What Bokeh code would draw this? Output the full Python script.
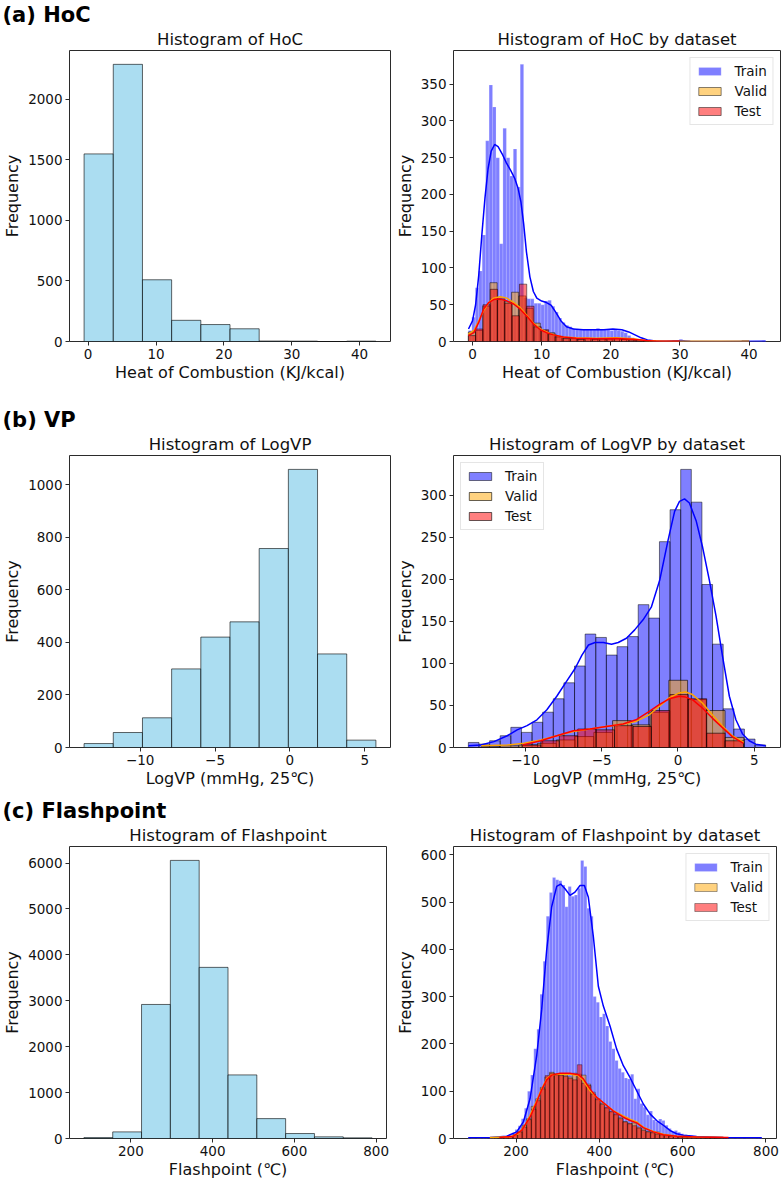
import numpy as np
from bokeh.plotting import figure
from bokeh.layouts import column, row
from bokeh.models import (ColumnDataSource, Range1d, Legend, LegendItem, FixedTicker, Title)
from bokeh.embed import file_html
from bokeh.resources import INLINE

FONT = "DejaVu Sans"

# ---------------- (a) Heat of combustion ----------------
hoc_all_range = (-0.6, 42.4)
hoc_all_counts = [1550, 2290, 510, 175, 140, 105, 4, 3, 0, 3]

hoc_train_range = (-0.6, 42.4)
hoc_train_counts = ([15, 33, 73, 96, 145, 273, 349, 319, 250, 133, 290, 250, 225, 262, 210, 377,
                     60, 58, 58, 52, 52,
                     50, 55, 56, 48, 40, 32, 26, 22, 20, 18,
                     17, 16, 17, 16, 17, 16, 18, 17, 16, 16, 15, 16, 15, 14,
                     12, 8, 5, 3, 1]
                    + [0] * 11 + [3] + [0] * 23 + [1])
hoc_valid_range = (-0.6, 40.0)
hoc_valid_counts = [13, 15, 48, 80, 57, 54, 67, 62, 45, 25, 15, 12, 6, 5, 4, 3, 4, 3, 4, 3,
                    4, 3, 3, 2, 1, 1, 0, 0, 0, 1, 0, 0, 0, 0, 0, 0, 0, 0, 1]
hoc_test_range = (-0.6, 30.0)
hoc_test_counts = [8, 17, 50, 71, 58, 52, 35, 78, 48, 20, 16, 10, 7, 4, 4, 3, 4, 3, 3, 4,
                   4, 3, 2, 1, 1, 0, 0, 0, 1]

hoc_train_kde_x = [-0.58, 0.0, 0.45, 0.9, 1.35, 1.8, 2.25, 2.7, 3.2, 3.7, 4.3, 4.9, 5.5, 6.1,
                   6.6, 7.0, 7.4, 7.8, 8.3, 8.8, 9.3, 10.0, 10.7, 11.4, 12.1, 12.8, 13.6, 14.6,
                   16.0, 17.5, 19.0, 20.3, 21.6, 22.6, 23.5, 24.4, 25.3, 26.5, 28.0, 30.0,
                   31.5, 36.0, 42.4]
hoc_train_kde_y = [17, 28, 50, 90, 145, 195, 235, 259, 268, 265, 255, 243, 233, 222,
                   208, 190, 160, 122, 88, 68, 59, 55, 53, 49, 39, 28, 20, 17,
                   16, 16, 16, 17, 16, 13, 9, 5, 2, 0.6, 0.4, 1,
                   0.3, 0.1, 0.3]
hoc_valid_kde_x = [-0.6, 0.2, 0.9, 1.6, 2.35, 3.07, 4.0, 4.99, 5.95, 6.9, 7.9, 8.8, 9.8, 10.7,
                   11.7, 13.1, 15.0, 17.9, 20.8, 23.2, 25.1, 27.5, 31.4, 36.2, 40.0]
hoc_valid_kde_y = [10, 15, 28, 42, 53, 59, 61, 59, 53, 46, 35, 25, 17, 13,
                   9, 6, 5, 4.5, 5, 3.6, 1.3, 0.5, 0.4, 0.5, 0.5]
hoc_test_kde_x = [-0.6, 0.2, 0.9, 1.6, 2.35, 3.07, 4.0, 5.0, 5.95, 6.9, 7.9, 8.8, 9.8, 10.7,
                  11.7, 13.1, 15.0, 17.9, 20.8, 23.2, 25.1, 26.6, 30.0]
hoc_test_kde_y = [8, 12, 26, 44, 53, 57, 58, 55, 51, 44, 34, 24, 16, 12,
                  9, 6, 4.5, 3.6, 4, 3, 1.3, 0.5, 0.4]

# ---------------- (b) Vapour pressure ----------------
vp_all_range = (-13.75, 5.75)
vp_all_counts = [15, 57, 113, 299, 420, 478, 757, 1058, 356, 28]

vp_train_range = (-13.75, 5.75)
vp_train_counts = [6, 4, 8, 14, 24, 18, 30, 42, 58, 77, 97, 135, 131, 110, 120, 132, 170, 154,
                   245, 283, 331, 292, 194, 123, 46, 22, 10, 3]
vp_valid_range = (-12.9, 4.32)
vp_valid_counts = [1, 2, 3, 5, 9, 13, 18, 32, 27, 42, 80, 57, 44, 12]
vp_test_range = (-10.2, 4.3)
vp_test_counts = [3, 8, 14, 22, 21, 26, 25, 44, 63, 58, 17, 8]

vp_train_kde_x = [-13.75, -12.94, -12.07, -11.2, -10.55, -9.9, -9.25, -8.6, -7.95, -7.3, -6.75,
                  -6.3, -5.87, -5.44, -4.9, -4.36, -3.92, -3.38, -2.84, -2.29, -1.75, -1.2,
                  -0.66, -0.22, 0.1, 0.43, 0.75, 1.19, 1.62, 2.06, 2.5, 2.93, 3.37, 3.8, 4.24,
                  4.67, 5.1, 5.75]
vp_train_kde_y = [2, 3, 7, 14, 21, 26, 33, 45, 61, 79, 94,
                  110, 122, 125, 125, 123, 125, 130, 140, 152, 167, 199,
                  246, 281, 293, 296, 291, 270, 238, 199, 156, 108, 61, 33, 16,
                  8, 4, 2]
vp_valid_kde_x = [-12.9, -11.2, -10.1, -9.0, -7.95, -6.86, -5.78, -4.7, -3.6, -2.75, -1.88,
                  -1.23, -0.58, 0.08, 0.5, 0.95, 1.6, 2.25, 2.9, 3.56, 4.32]
vp_valid_kde_y = [2, 3, 5, 9, 14, 19, 22, 25, 28, 31, 39,
                  49, 59, 65, 66, 63, 53, 39, 26, 14, 6]
vp_test_kde_x = [-10.2, -9.0, -7.95, -6.86, -5.78, -4.7, -3.6, -2.75, -1.88, -1.23, -0.58,
                 0.08, 0.5, 0.95, 1.6, 2.25, 2.9, 3.56, 4.3]
vp_test_kde_y = [3, 8, 14, 20, 22, 25, 28, 33, 43, 51, 58,
                 61, 60, 57, 47, 35, 24, 13, 5]

# ---------------- (c) Flashpoint ----------------
fp_all_range = (85.0, 790.0)
fp_all_counts = [20, 144, 2920, 6058, 3728, 1385, 433, 108, 36, 14]

fp_train_range = (85.0, 790.0)
fp_train_counts = [1, 0, 1, 0, 1, 1, 2, 2, 1, 3,
                   2, 4, 5, 7, 12, 19, 27, 42, 64, 100,
                   134, 190, 231, 305, 375, 470, 520, 552, 547, 545,
                   536, 490, 533, 512, 515, 529, 588, 575, 487, 470,
                   300, 288, 257, 264, 238, 205, 190, 165, 148, 140,
                   128, 126, 136, 84, 105, 74, 66, 50, 58, 39,
                   35, 41, 38, 28, 21, 14, 17, 13, 10, 8,
                   7, 6, 5, 5, 4, 3, 4, 3, 2, 3,
                   2, 1, 2, 1, 0, 1, 0, 0, 1, 0,
                   0, 0, 1, 1]
fp_valid_range = (137.0, 698.0)
fp_valid_counts = [2, 1, 2, 3, 4, 7, 14, 28, 42, 68,
                   84, 108, 130, 140, 137, 135, 134, 130, 138, 136,
                   134, 115, 98, 82, 74, 64, 56, 50, 44, 36,
                   32, 33, 24, 20, 15, 13, 14, 8, 7, 5,
                   5, 3, 3, 2, 2, 1, 2, 1, 1, 0, 1]
fp_test_range = (160.0, 710.0)
fp_test_counts = [2, 3, 4, 8, 14, 24, 40, 62, 80, 105,
                  133, 138, 134, 133, 131, 127, 124, 156, 117, 112,
                  94, 84, 72, 66, 57, 52, 42, 35, 31, 27,
                  22, 17, 14, 12, 9, 8, 6, 5, 4, 3,
                  3, 2, 2, 2, 1, 1, 1, 1, 0, 1]

fp_train_kde_x = [85, 137.5, 177.5, 201.5, 217.5, 233.5, 249.5, 261.5, 273.5, 285.5, 297.5,
                  307, 317.5, 329.5, 341.5, 353.5, 364, 373.5, 385.5, 397.5, 409.5, 425.5,
                  441.5, 457.5, 473.5, 489.5, 505.5, 521.5, 537.5, 553.5, 569.5, 585.5,
                  601.5, 633.5, 665.5, 697.5, 737.5, 790]
fp_train_kde_y = [1.4, 2, 5, 14, 35, 84, 175, 273, 399, 490, 533,
                  538, 528, 514, 521, 535, 535, 510, 427, 322, 280, 238,
                  189, 154, 129, 101, 73, 52, 38, 28, 17, 10,
                  7, 4, 3, 2, 1.4, 1.4]
fp_valid_kde_x = [137, 185.5, 205.5, 221.5, 233.5, 249.5, 261.5, 273.5, 285.5, 305.5, 329.5,
                  349.5, 361.5, 377.5, 393.5, 413.5, 433.5, 457.5, 473.5, 489.5, 505.5,
                  529.5, 553.5, 585.5, 633.5, 698]
fp_valid_kde_y = [2, 3.5, 10, 28, 49, 80, 105, 126, 135, 136, 136,
                  133, 122, 101, 87, 73, 59, 48, 41, 35, 24,
                  15, 9, 5, 3, 2]
fp_test_kde_x = [160, 193.5, 213.5, 233.5, 249.5, 261.5, 273.5, 285.5, 305.5, 329.5, 349.5,
                 361.5, 377.5, 393.5, 413.5, 433.5, 457.5, 473.5, 489.5, 505.5, 529.5,
                 553.5, 585.5, 633.5, 710]
fp_test_kde_y = [2, 5, 17, 45, 77, 103, 124, 134, 138, 138, 135,
                 126, 105, 87, 73, 58, 45, 38, 33, 23, 14,
                 8, 5, 3, 2]

MINUS = "\u2212"


def padded(rng, frac=0.05):
    span = rng[1] - rng[0]
    return (rng[0] - frac * span, rng[1] + frac * span)


def hist(p, rng, counts, **kw):
    e = np.linspace(rng[0], rng[1], len(counts) + 1)
    src = ColumnDataSource(dict(left=e[:-1], right=e[1:], top=list(counts),
                                bottom=[0] * len(counts)))
    return p.quad(left="left", right="right", top="top", bottom="bottom", source=src, **kw)


def base_fig(width, height, borders, title, section, xr, ytop, xticks, yticks, xlabel,
             overrides=None):
    bl, br, bt, bb = borders
    p = figure(width=width, height=height, min_border_left=bl, min_border_right=br,
               min_border_top=bt, min_border_bottom=bb,
               x_range=Range1d(*xr), y_range=Range1d(0, ytop),
               output_backend="svg", toolbar_location=None)
    # panel title sits right above the frame, the section heading above that
    p.add_layout(Title(text=title, align="center", text_font=FONT, text_font_size="16.5px",
                       text_font_style="normal", text_color="#111111", standoff=3), "above")
    p.add_layout(Title(text=section, align="left", offset=-67, text_font=FONT,
                       text_font_size="21px", text_font_style="bold", text_color="black",
                       standoff=0), "above")
    p.grid.visible = False
    p.background_fill_color = "white"
    p.border_fill_color = "white"
    p.outline_line_color = "#2b2b2b"
    p.outline_line_width = 1
    p.outline_line_alpha = 1
    p.xaxis.axis_line_color = None
    p.yaxis.axis_line_color = None
    p.axis.major_tick_out = 4
    p.axis.major_tick_in = 0
    p.axis.major_tick_line_color = "#2b2b2b"
    p.axis.minor_tick_line_color = None
    p.axis.major_label_text_font = FONT
    p.axis.major_label_text_font_size = "13.5px"
    p.axis.major_label_text_color = "#111111"
    p.axis.major_label_standoff = 3
    p.axis.axis_label_text_font = FONT
    p.axis.axis_label_text_font_size = "16px"
    p.axis.axis_label_text_font_style = "normal"
    p.axis.axis_label_text_color = "#111111"
    p.xaxis.axis_label_standoff = 1
    p.yaxis.axis_label_standoff = 3
    p.xaxis.ticker = FixedTicker(ticks=xticks)
    p.yaxis.ticker = FixedTicker(ticks=yticks)
    if overrides:
        p.xaxis.major_label_overrides = overrides
    p.xaxis.axis_label = xlabel
    p.yaxis.axis_label = "Frequency"
    return p


def overall_panel(width, height, borders, name, rng, counts, xticks, yticks, xlabel,
                  section, overrides=None):
    p = base_fig(width, height, borders, f"Histogram of {name}", section, padded(rng),
                 1.05 * max(counts), xticks, yticks, xlabel, overrides)
    hist(p, rng, counts, fill_color="skyblue", fill_alpha=0.7,
         line_color="black", line_alpha=0.6, line_width=1)
    return p


def split_panel(width, height, borders, name, sets, xticks, yticks, xlabel, legend_loc,
                train_edge, split_edge_w, overrides=None):
    train, valid, test = sets
    ytop = 1.05 * max(max(train[1]), max(train[3]))
    p = base_fig(width, height, borders, f"Histogram of {name} by dataset", " ",
                 padded(train[0]), ytop, xticks, yticks, xlabel, overrides)
    r_train = hist(p, train[0], train[1], fill_color="blue", fill_alpha=0.5, **train_edge)
    r_valid = hist(p, valid[0], valid[1], fill_color="orange", fill_alpha=0.5,
                   line_color="black", line_alpha=0.6, line_width=split_edge_w)
    r_test = hist(p, test[0], test[1], fill_color="red", fill_alpha=0.5,
                  line_color="black", line_alpha=0.6, line_width=split_edge_w)
    p.line(train[2], train[3], line_color="blue", line_width=1.5)
    p.line(valid[2], valid[3], line_color="orange", line_width=1.5)
    p.line(test[2], test[3], line_color="red", line_width=1.5)
    legend = Legend(items=[LegendItem(label="Train", renderers=[r_train]),
                           LegendItem(label="Valid", renderers=[r_valid]),
                           LegendItem(label="Test", renderers=[r_test])],
                    location=legend_loc)
    legend.label_text_font = FONT
    legend.label_text_font_size = "13.5px"
    legend.label_text_color = "#111111"
    legend.glyph_width = 28
    legend.glyph_height = 10
    legend.label_standoff = 11
    legend.spacing = 4
    legend.padding = 5
    legend.margin = 7
    legend.border_line_color = "#cccccc"
    legend.border_line_width = 1
    legend.background_fill_alpha = 0.8
    p.add_layout(legend)
    return p


thin_edge = dict(line_color="white", line_alpha=0.35, line_width=0.5)
dark_edge = dict(line_color="black", line_alpha=0.5, line_width=1)

vp_over = {-10: MINUS + "10", -5: MINUS + "5"}

# row (a)
a1 = overall_panel(391, 390, (63, 1, 48, 49), "HoC", hoc_all_range, hoc_all_counts,
                   [0, 10, 20, 30, 40], [0, 500, 1000, 1500, 2000],
                   "Heat of Combustion (KJ/kcal)", "(a) HoC")
a2 = split_panel(392, 390, (62, 3, 48, 49), "HoC",
                 [(hoc_train_range, hoc_train_counts, hoc_train_kde_x, hoc_train_kde_y),
                  (hoc_valid_range, hoc_valid_counts, hoc_valid_kde_x, hoc_valid_kde_y),
                  (hoc_test_range, hoc_test_counts, hoc_test_kde_x, hoc_test_kde_y)],
                 [0, 10, 20, 30, 40], list(range(0, 351, 50)),
                 "Heat of Combustion (KJ/kcal)", "top_right", thin_edge, 0.8)

# row (b)
b1 = overall_panel(391, 400, (63, 1, 65, 42), "LogVP", vp_all_range, vp_all_counts,
                   [-10, -5, 0, 5], [0, 200, 400, 600, 800, 1000],
                   "LogVP (mmHg, 25\u2103)", "(b) VP", vp_over)
b2 = split_panel(392, 400, (62, 3, 65, 42), "LogVP",
                 [(vp_train_range, vp_train_counts, vp_train_kde_x, vp_train_kde_y),
                  (vp_valid_range, vp_valid_counts, vp_valid_kde_x, vp_valid_kde_y),
                  (vp_test_range, vp_test_counts, vp_test_kde_x, vp_test_kde_y)],
                 [-10, -5, 0, 5], list(range(0, 301, 50)),
                 "LogVP (mmHg, 25\u2103)", "top_left", dark_edge, 1, vp_over)

# row (c)
c1 = overall_panel(391, 391, (63, 5, 56, 41), "Flashpoint", fp_all_range, fp_all_counts,
                   [200, 400, 600, 800], list(range(0, 6001, 1000)),
                   "Flashpoint (\u2103)", "(c) Flashpoint")
c2 = split_panel(392, 391, (62, 7, 56, 41), "Flashpoint",
                 [(fp_train_range, fp_train_counts, fp_train_kde_x, fp_train_kde_y),
                  (fp_valid_range, fp_valid_counts, fp_valid_kde_x, fp_valid_kde_y),
                  (fp_test_range, fp_test_counts, fp_test_kde_x, fp_test_kde_y)],
                 [200, 400, 600, 800], list(range(0, 601, 100)),
                 "Flashpoint (\u2103)", "top_right", thin_edge, 0.6)

layout = column(row(a1, a2), row(b1, b2), row(c1, c2))

with open("out.html", "w") as f:
    f.write(file_html(layout, INLINE))
